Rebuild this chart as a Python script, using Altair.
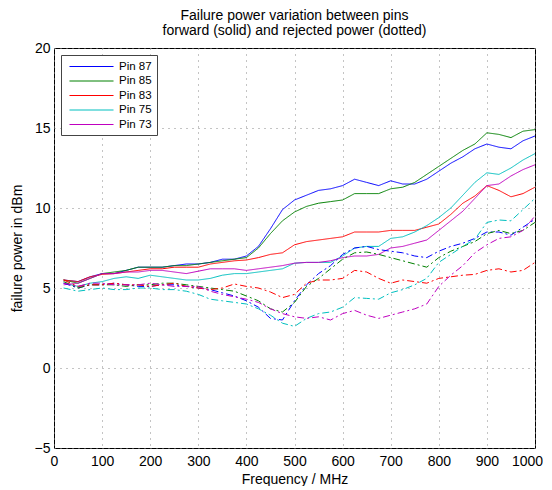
import altair as alt
import pandas as pd

FREQ = [20, 50, 75, 100, 125, 150, 175, 200, 225, 250, 275, 300, 325, 350, 375, 400,
        425, 450, 475, 500, 525, 550, 575, 600, 625, 650, 675, 700, 725, 750, 775, 800,
        825, 850, 875, 900, 925, 950, 975, 1000]

PINS = ["Pin 87", "Pin 85", "Pin 83", "Pin 75", "Pin 73"]
COLORS = ["#0000ff", "#008000", "#ff0000", "#00bfbf", "#bf00bf"]

# forward power (solid)
FWD_87 = [5.5, 5.4, 5.7, 5.9, 5.9, 6.1, 6.3, 6.3, 6.3, 6.4, 6.5, 6.5, 6.6, 6.8, 6.8, 7.0,
          7.6, 8.7, 9.9, 10.5, 10.8, 11.1, 11.2, 11.4, 11.8, 11.6, 11.4, 11.7, 11.5, 11.5, 11.8, 12.3,
          12.8, 13.2, 13.7, 14.0, 13.8, 13.7, 14.2, 14.5]
FWD_85 = [5.5, 5.3, 5.6, 5.9, 6.0, 6.1, 6.3, 6.3, 6.3, 6.4, 6.4, 6.5, 6.6, 6.7, 6.8, 6.9,
          7.5, 8.4, 9.2, 9.75, 10.1, 10.3, 10.4, 10.5, 10.9, 10.9, 10.9, 11.2, 11.3, 11.6, 12.1, 12.6,
          13.1, 13.6, 14.0, 14.7, 14.6, 14.4, 14.8, 14.9]
FWD_83 = [5.5, 5.4, 5.7, 5.85, 5.9, 6.0, 6.1, 6.2, 6.2, 6.3, 6.3, 6.3, 6.5, 6.6, 6.7, 6.75,
          6.9, 7.1, 7.2, 7.7, 7.9, 8.0, 8.1, 8.2, 8.5, 8.5, 8.5, 8.6, 8.6, 8.6, 8.8, 9.0,
          9.6, 10.3, 10.75, 11.4, 11.1, 10.7, 10.9, 11.3]
FWD_75 = [5.3, 5.1, 5.3, 5.4, 5.6, 5.7, 5.6, 5.8, 5.7, 5.6, 5.5, 5.5, 5.6, 5.8, 5.9, 5.9,
          6.0, 6.1, 6.2, 6.55, 6.6, 6.6, 6.6, 7.0, 7.5, 7.6, 7.6, 8.1, 8.2, 8.5, 8.9, 9.4,
          10.0, 10.8, 11.6, 12.2, 12.1, 12.5, 13.0, 13.4]
FWD_73 = [5.2, 5.3, 5.6, 5.9, 5.9, 6.0, 6.0, 6.1, 6.1, 6.0, 5.9, 6.05, 6.2, 6.2, 6.2, 6.1,
          6.2, 6.3, 6.4, 6.55, 6.6, 6.6, 6.7, 6.9, 7.0, 7.0, 7.1, 7.5, 7.6, 7.8, 8.0, 8.6,
          9.2, 9.8, 10.6, 11.4, 11.5, 12.0, 12.4, 12.7]

# rejected power (dotted)
REJ_87 = [5.3, 5.0, 5.2, 5.2, 5.3, 5.2, 5.1, 5.1, 5.2, 5.2, 5.1, 5.0, 4.9, 4.7, 4.5, 4.2,
          3.8, 3.1, 3.0, 4.2, 5.2, 5.9, 6.4, 7.1, 7.5, 7.6, 7.4, 7.3, 7.2, 7.0, 6.9, 7.3,
          7.6, 7.8, 8.1, 8.5, 8.5, 8.3, 8.8, 9.3]
REJ_85 = [5.4, 5.0, 5.2, 5.2, 5.2, 5.1, 5.2, 5.2, 5.3, 5.3, 5.2, 5.1, 5.0, 4.9, 4.8, 4.5,
          4.2, 3.7, 3.5, 4.1, 5.1, 5.6, 6.2, 6.8, 7.2, 7.25, 7.1, 6.9, 6.7, 6.5, 6.3, 6.9,
          7.3, 7.6, 7.9, 8.4, 8.6, 8.4, 8.6, 9.1]
REJ_83 = [5.5, 5.1, 5.2, 5.2, 5.3, 5.2, 5.2, 5.1, 5.2, 5.3, 5.1, 5.0, 4.9, 5.0, 5.25, 5.1,
          5.0, 4.75, 4.4, 4.6, 5.3, 5.5, 5.5, 5.6, 6.1, 6.0, 5.6, 5.3, 5.5, 5.4, 5.3, 5.6,
          5.7, 5.8, 5.85, 6.1, 6.2, 6.0, 6.1, 6.6]
REJ_75 = [5.0, 4.8, 4.9, 5.0, 4.9, 4.9, 5.0, 5.0, 4.9, 4.9, 4.8, 4.6, 4.3, 4.2, 4.1, 4.0,
          3.7, 3.3, 2.8, 2.6, 3.1, 3.4, 3.5, 3.8, 4.4, 4.35, 4.3, 4.7, 4.9, 5.2, 5.6, 6.6,
          7.1, 7.6, 8.05, 9.1, 9.25, 9.2, 9.9, 10.6]
REJ_73 = [5.3, 5.1, 5.3, 5.3, 5.2, 5.2, 5.2, 5.3, 5.2, 5.1, 5.1, 5.1, 4.8, 4.6, 4.45, 4.3,
          4.1, 3.7, 3.4, 3.2, 3.1, 3.2, 3.0, 3.4, 3.6, 3.3, 3.1, 3.3, 3.5, 3.7, 4.0, 5.1,
          5.8, 6.4, 7.2, 7.7, 8.1, 8.2, 8.6, 9.5]

X_TICKS = [0, 100, 200, 300, 400, 500, 600, 700, 800, 900, 1000]
Y_TICKS = [-5, 0, 5, 10, 15, 20]

series = [
    ("Pin 87", "forward", FWD_87), ("Pin 85", "forward", FWD_85), ("Pin 83", "forward", FWD_83),
    ("Pin 75", "forward", FWD_75), ("Pin 73", "forward", FWD_73),
    ("Pin 87", "rejected", REJ_87), ("Pin 85", "rejected", REJ_85), ("Pin 83", "rejected", REJ_83),
    ("Pin 75", "rejected", REJ_75), ("Pin 73", "rejected", REJ_73),
]
rows = []
for pin, kind, vals in series:
    for f, v in zip(FREQ, vals):
        rows.append({"freq": f, "power": v, "pin": pin, "kind": kind})
df = pd.DataFrame(rows)

FONT = "Liberation Sans"

chart = alt.Chart(df).mark_line(strokeWidth=1).encode(
    x=alt.X("freq:Q", scale=alt.Scale(domain=[0, 1000], nice=False),
            axis=alt.Axis(values=X_TICKS, title="Frequency / MHz", format="d",
                          labelOffset={"condition": {"test": "datum.value == 1000", "value": -8},
                                       "value": 0})),
    y=alt.Y("power:Q", scale=alt.Scale(domain=[-5, 20], nice=False),
            axis=alt.Axis(values=Y_TICKS, title="failure power in dBm", format="d")),
    color=alt.Color("pin:N", scale=alt.Scale(domain=PINS, range=COLORS),
                    legend=alt.Legend(title=None, orient="none", legendX=7, legendY=7,
                                      fillColor="white", strokeColor="#444", padding=5,
                                      symbolType="M-3.67,0H3.67", symbolSize=144,
                                      symbolStrokeWidth=1, symbolOffset=19,
                                      labelFont=FONT, labelFontSize=11.5, labelColor="black",
                                      rowPadding=2.5, labelOffset=21)),
    strokeDash=alt.StrokeDash("kind:N", scale=alt.Scale(domain=["forward", "rejected"],
                                                         range=[[1, 0], [7, 3, 2, 3]]),
                              legend=None),
    order="freq:Q",
).properties(
    width=481, height=400,
    title=alt.TitleParams(["Failure power variation between pins",
                           "forward (solid) and rejected power (dotted)"],
                          font=FONT, fontSize=14, fontWeight="normal", color="black",
                          anchor="middle", lineHeight=15, offset=3),
    padding={"left": 2, "top": 1, "right": 0, "bottom": 0},
).configure_view(
    stroke="black", strokeWidth=1
).configure_axis(
    labelFont=FONT, labelFontSize=14, labelColor="black",
    titleFont=FONT, titleFontSize=14, titleFontWeight="normal", titleColor="black",
    domain=False, ticks=False, tickSize=0, labelFlush=False, labelOverlap=False,
    grid=True, gridColor="#888888", gridDash=[1, 5], gridWidth=1,
).configure_axisY(
    labelPadding=4, titlePadding=10
).configure_axisX(
    labelPadding=6, titlePadding=4
)

chart.save("out.html", embed_options={"renderer": "svg", "actions": False})
